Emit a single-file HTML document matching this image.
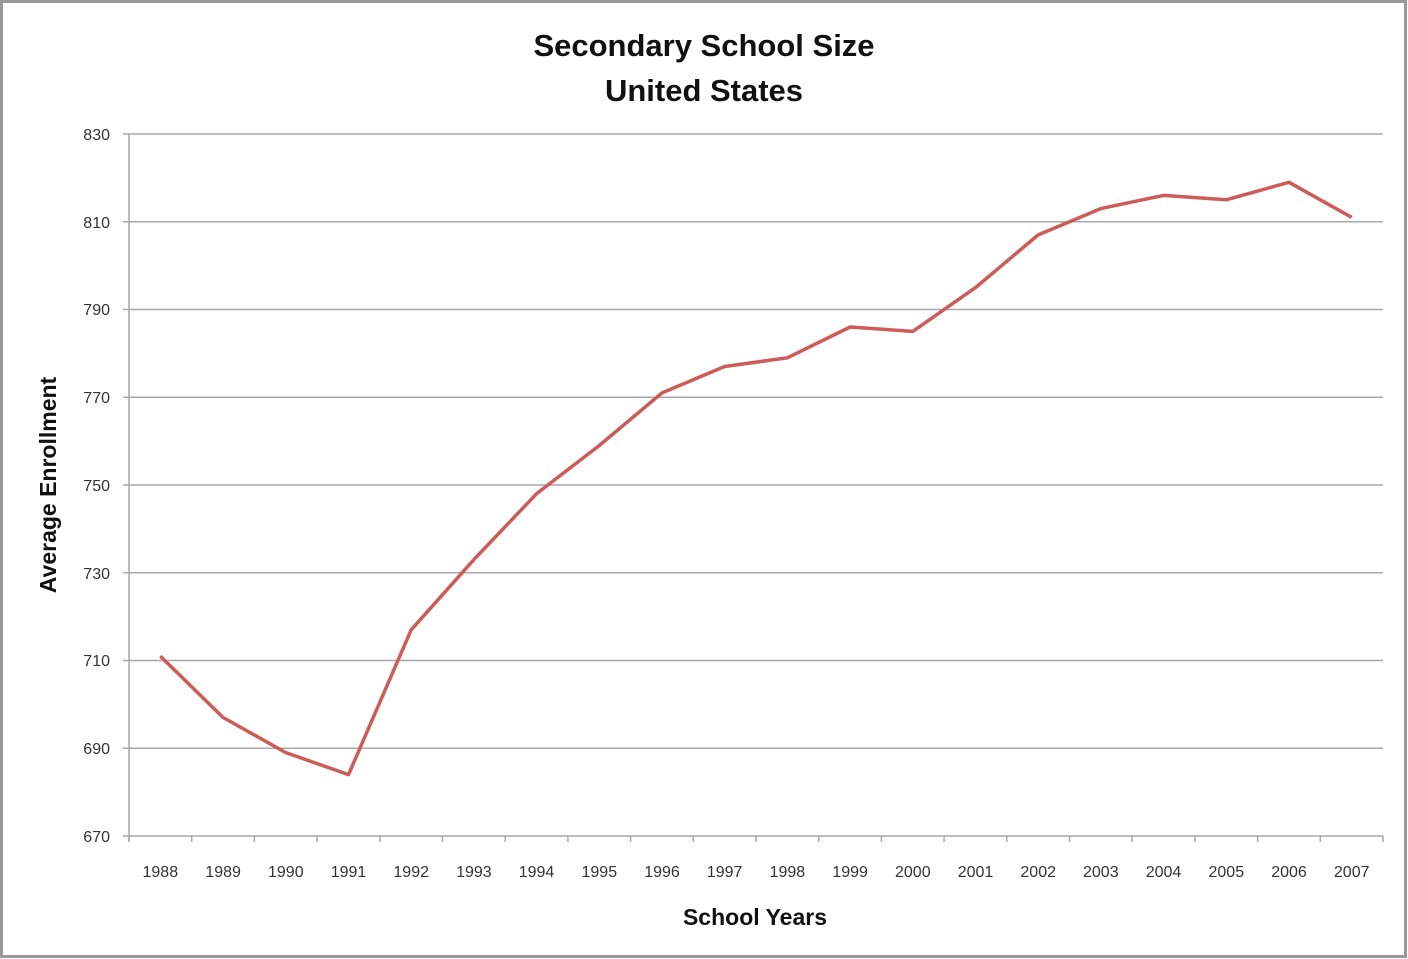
<!DOCTYPE html>
<html><head><style>
html,body{margin:0;padding:0;background:#fff;}
svg{display:block;}
text{font-family:"Liberation Sans",sans-serif;}
</style></head><body>
<svg width="1408" height="959" viewBox="0 0 1408 959">
<rect x="1.5" y="1.5" width="1404" height="955" fill="#fff" stroke="#999" stroke-width="3"/>
<text x="704" y="56" text-anchor="middle" font-size="31" font-weight="bold" fill="#111">Secondary School Size</text>
<text x="704" y="101" text-anchor="middle" font-size="31" font-weight="bold" fill="#111">United States</text>
<g stroke="#a8a8a8" stroke-width="1.5">
<line x1="123" y1="134" x2="1383" y2="134"/>
<line x1="123" y1="221.75" x2="1383" y2="221.75"/>
<line x1="123" y1="309.5" x2="1383" y2="309.5"/>
<line x1="123" y1="397.25" x2="1383" y2="397.25"/>
<line x1="123" y1="485" x2="1383" y2="485"/>
<line x1="123" y1="572.75" x2="1383" y2="572.75"/>
<line x1="123" y1="660.5" x2="1383" y2="660.5"/>
<line x1="123" y1="748.25" x2="1383" y2="748.25"/>
<line x1="123" y1="836" x2="1383" y2="836"/>
<line x1="129" y1="134" x2="129" y2="842"/>
</g>
<g stroke="#a8a8a8" stroke-width="1.5" id="ticks"></g>
<g font-size="16" fill="#333" text-anchor="end">
<text x="110" y="140">830</text><text x="110" y="228">810</text><text x="110" y="315">790</text><text x="110" y="403">770</text><text x="110" y="491">750</text><text x="110" y="579">730</text><text x="110" y="666">710</text><text x="110" y="754">690</text><text x="110" y="842">670</text>
</g>
<g font-size="16" fill="#333" text-anchor="middle" id="xl"></g>
<text x="755" y="925" text-anchor="middle" font-size="23" font-weight="bold" fill="#111">School Years</text>
<text transform="translate(56,485) rotate(-90)" text-anchor="middle" font-size="23" font-weight="bold" fill="#111">Average Enrollment</text>
<polyline fill="none" stroke="#cd5c58" stroke-width="3.5" stroke-linejoin="round" id="ln" points=""/>
</svg>
<script>
var vals=[711,697,689,684,717,733,748,759,771,777,779,786,785,795,807,813,816,815,819,811];
var pts=[],t='',xl='';
for(var i=0;i<20;i++){var x=129+62.7*(i+0.5);var y=836-(vals[i]-670)*4.3875;pts.push(x.toFixed(1)+','+y.toFixed(1));
xl+='<text x="'+x.toFixed(1)+'" y="877">'+(1988+i)+'</text>';}
for(var i=0;i<=20;i++){var x=129+62.7*i;t+='<line x1="'+x+'" y1="836" x2="'+x+'" y2="842"/>';}
document.getElementById('ln').setAttribute('points',pts.join(' '));
document.getElementById('ticks').innerHTML=t;
document.getElementById('xl').innerHTML=xl;
</script>
</body></html>
